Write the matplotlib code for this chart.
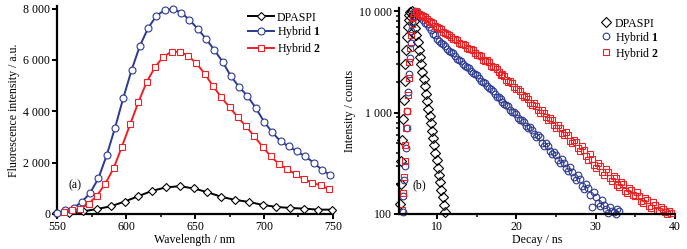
import matplotlib
matplotlib.use("Agg")
import matplotlib.pyplot as plt
from matplotlib.ticker import FixedLocator, MultipleLocator, LogLocator, NullFormatter

plt.rcParams['font.family'] = ['Liberation Serif', 'DejaVu Serif']
plt.rcParams['mathtext.fontset'] = 'custom'
plt.rcParams['mathtext.rm'] = 'Liberation Serif'
plt.rcParams['mathtext.bf'] = 'Liberation Serif:bold'

# ---------------- Panel (a): fluorescence spectra ----------------
wl_dpaspi = [549, 559, 569, 579, 589, 599, 609, 619, 629, 639, 649, 659, 669, 679,
             689, 699, 709, 719, 729, 739, 749]
fl_dpaspi = [20, 40, 100, 195, 300, 485, 695, 905, 1035, 1085, 995, 850, 670, 550,
             470, 355, 275, 235, 210, 170, 170]

wl_h1 = [550, 556, 562, 568, 574, 580, 586, 592, 598, 604, 610, 616, 622, 628, 634,
         640, 646, 652, 658, 664, 670, 676, 682, 688, 694, 700, 706, 712, 718, 724,
         730, 736, 742, 748]
fl_h1 = [40, 150, 240, 470, 820, 1390, 2290, 3350, 4515, 5600, 6545, 7240, 7720, 7945,
         7985, 7840, 7565, 7210, 6820, 6390, 5930, 5365, 4950, 4595, 4135, 3600, 3180,
         2830, 2630, 2435, 2240, 2000, 1715, 1520]

wl_h2 = [555, 561, 567, 573, 579, 585, 591, 597, 603, 609, 615, 621, 627, 633, 639,
         645, 651, 657, 663, 669, 675, 681, 687, 693, 699, 705, 711, 717, 723, 729,
         735, 741, 747]
fl_h2 = [80, 145, 210, 405, 720, 1180, 1780, 2620, 3495, 4360, 5145, 5720, 6125, 6320,
         6320, 6165, 5865, 5470, 4985, 4555, 4160, 3770, 3415, 3025, 2620, 2240, 1940,
         1740, 1545, 1350, 1220, 1115, 955]

yticks_a = [0, 2000, 4000, 6000, 8000]
yticklabels_a = ["0", "2 000", "4 000", "6 000", "8 000"]
xticks_a = [550, 600, 650, 700, 750]

# ---------------- Panel (b): fluorescence decay ----------------
t_dpaspi = [5.3, 5.4, 5.5, 5.6, 5.7, 5.8, 5.9, 6.0, 6.1, 6.2, 6.3, 6.4, 6.5, 6.6,
            6.8, 6.95, 7.1, 7.25, 7.4, 7.55, 7.7, 7.85, 8.0, 8.15, 8.3, 8.45, 8.6,
            8.75, 8.9, 9.05, 9.2, 9.35, 9.5, 9.65, 9.8, 9.95, 10.1, 10.25, 10.4,
            10.55, 10.7, 10.85, 11.0]
i_dpaspi = [125, 200, 330, 540, 860, 1350, 2050, 3000, 4200, 5600, 7000, 8300, 9300,
            9850, 10000, 9200, 8100, 6900, 5900, 5000, 4200, 3550, 3000, 2550, 2150,
            1820, 1540, 1300, 1100, 930, 790, 665, 560, 475, 400, 340, 285, 242, 205,
            172, 146, 123, 104]

t_h1 = [5.65, 5.75, 5.85, 5.95, 6.05, 6.15, 6.25, 6.35, 6.45, 6.55, 6.65, 6.75, 6.9,
        7.05, 7.2, 7.5, 8.0, 8.5, 9.0, 9.5, 10.0, 10.5, 11.0, 11.5, 12.0, 12.5, 13.0,
        13.5, 14.0, 14.5, 15.0, 15.5, 16.0, 16.5, 17.0, 17.5, 18.0, 18.5, 19.0, 19.5,
        20.0, 20.5, 21.0, 21.5, 22.0, 22.5, 23.0, 23.5, 24.0, 24.5, 25.0, 25.5, 26.0,
        26.5, 27.0, 27.5, 28.0, 28.5, 29.0, 29.5, 30.0, 30.5, 31.0, 31.5, 32.0, 32.5,
        33.0]
i_h1 = [105, 150, 215, 300, 450, 700, 1050, 1600, 2400, 3500, 4900, 6400, 7900, 9000,
        10000, 9700, 8800, 7700, 7000, 6050, 5400, 4850, 4550, 4100, 3850, 3420, 3250,
        2900, 2760, 2460, 2350, 2070, 1960, 1740, 1650, 1440, 1380, 1210, 1160, 1020,
        975, 840, 815, 700, 680, 575, 570, 470, 470, 390, 385, 320, 320, 265, 262,
        215, 222, 175, 180, 118, 148, 120, 124, 103, 108, 101, 106]
t_h1_more = [7.75, 8.25, 8.75, 9.25, 9.75, 10.25, 10.75, 11.25, 11.75, 12.25, 12.75,
             13.25, 13.75, 14.25, 14.75, 15.25, 15.75, 16.25, 16.75, 17.25, 17.75,
             18.25, 18.75, 19.25, 19.75, 20.25, 20.75, 21.25, 21.75, 22.25, 22.75,
             23.25, 23.75, 24.25, 24.75, 25.25, 25.75, 26.25, 26.75, 27.25, 27.75,
             28.25, 28.75, 29.25, 29.75, 30.25, 30.75, 31.25, 31.75, 32.25, 32.75]
i_h1_more = [9300, 8200, 7450, 6500, 5800, 5100, 4750, 4300, 4000, 3600, 3350, 3050,
             2850, 2580, 2420, 2200, 2030, 1840, 1700, 1520, 1430, 1270, 1200, 1060,
             1010, 880, 850, 740, 720, 610, 600, 500, 505, 420, 410, 340, 350, 285,
             290, 230, 245, 190, 200, 155, 165, 128, 138, 112, 118, 104, 112]

t_h2 = [5.6, 5.7, 5.8, 5.9, 6.0, 6.1, 6.2, 6.3, 6.4, 6.5, 6.6, 6.7, 6.85, 7.0, 7.15,
        7.3, 7.5, 8.0, 8.5, 9.0, 9.5, 10.0, 10.5, 11.0, 11.5, 12.0, 12.5, 13.0, 13.5,
        14.0, 14.5, 15.0, 15.5, 16.0, 16.5, 17.0, 17.5, 18.0, 18.5, 19.0, 19.5, 20.0,
        20.5, 21.0, 21.5, 22.0, 22.5, 23.0, 23.5, 24.0, 24.5, 25.0, 25.5, 26.0, 26.5,
        27.0, 27.5, 28.0, 28.5, 29.0, 29.5, 30.0, 30.5, 31.0, 31.5, 32.0, 32.5, 33.0,
        33.5, 34.0, 34.5, 35.0, 35.5, 36.0, 36.5, 37.0, 37.5, 38.0, 38.5, 39.0, 39.5]
i_h2 = [110, 160, 230, 330, 480, 700, 1030, 1500, 2200, 3150, 4400, 5800, 7600, 8900,
        9600, 10000, 9800, 9250, 8800, 8050, 7650, 6950, 6700, 6100, 5900, 5400, 5200,
        4800, 4650, 4250, 4150, 3750, 3620, 3250, 3150, 2800, 2700, 2380, 2300, 2000,
        1960, 1700, 1640, 1420, 1380, 1190, 1160, 1000, 985, 850, 840, 710, 700, 600,
        600, 500, 510, 415, 425, 340, 350, 285, 295, 245, 260, 210, 228, 185, 198,
        160, 172, 150, 152, 128, 136, 115, 124, 106, 112, 101, 103]
t_h2_more = [7.75, 8.25, 8.75, 9.25, 9.75, 10.25, 10.75, 11.25, 11.75, 12.25, 12.75,
             13.25, 13.75, 14.25, 14.75, 15.25, 15.75, 16.25, 16.75, 17.25, 17.75,
             18.25, 18.75, 19.25, 19.75, 20.25, 20.75, 21.25, 21.75, 22.25, 22.75,
             23.25, 23.75, 24.25, 24.75, 25.25, 25.75, 26.25, 26.75, 27.25, 27.75,
             28.25, 28.75, 29.25, 29.75, 30.25, 30.75, 31.25, 31.75, 32.25, 32.75,
             33.25, 33.75, 34.25, 34.75, 35.25, 35.75, 36.25, 36.75, 37.25, 37.75,
             38.25, 38.75, 39.25]
i_h2_more = [9450, 9000, 8350, 7950, 7200, 6900, 6300, 6050, 5550, 5400, 4900, 4800,
             4400, 4250, 3850, 3750, 3350, 3300, 2920, 2850, 2500, 2420, 2120, 2080,
             1800, 1720, 1500, 1470, 1260, 1250, 1060, 1060, 900, 890, 760, 750, 630,
             650, 530, 540, 450, 470, 370, 390, 305, 320, 260, 275, 225, 238, 195, 205,
             170, 182, 155, 165, 135, 145, 120, 130, 110, 118, 104, 108]

yticks_b = [100, 1000, 10000]
yticklabels_b = ["100", "1 000", "10 000"]
xticks_b = [10, 20, 30, 40]

BLUE = '#2B3990'
RED = '#ED2024'
FS = 8.6

fig = plt.figure(figsize=(6.87, 2.49), dpi=100)
ax1 = fig.add_axes([0.083, 0.1406, 0.4017, 0.835])
ax2 = fig.add_axes([0.5808, 0.1406, 0.4017, 0.827])

for ax in (ax1, ax2):
    for s in ('top', 'right'):
        ax.spines[s].set_visible(False)
    for s in ('left', 'bottom'):
        ax.spines[s].set_linewidth(1.6)
    ax.tick_params(which='major', direction='out', length=3.5, width=1.4,
                   labelsize=FS, pad=1.5)
    ax.tick_params(which='minor', direction='out', length=2, width=1.1)

# Panel a
ax1.plot(wl_dpaspi, fl_dpaspi, '-D', color='black', lw=1.4, ms=4.3,
         mfc='white', mec='black', mew=0.8, label='DPASPI', clip_on=False, zorder=3)
ax1.plot(wl_h1, fl_h1, '-o', color=BLUE, lw=1.4, ms=5,
         mfc='white', mec=BLUE, mew=0.8, label='Hybrid $\\mathbf{1}$', clip_on=False, zorder=3)
ax1.plot(wl_h2, fl_h2, '-s', color=RED, lw=1.4, ms=4.6,
         mfc='white', mec=RED, mew=0.8, label='Hybrid $\\mathbf{2}$', clip_on=False, zorder=3)
ax1.set_xlim(550, 750)
ax1.set_ylim(0, 8100)
ax1.xaxis.set_major_locator(FixedLocator(xticks_a))
ax1.xaxis.set_minor_locator(MultipleLocator(25))
ax1.set_yticks(yticks_a)
ax1.set_yticklabels(yticklabels_a)
ax1.set_xlabel('Wavelength / nm', fontsize=FS, labelpad=1)
ax1.set_ylabel('Fluorescence intensity / a.u.', fontsize=FS, labelpad=2)
ax1.text(0.04, 0.14, '(a)', transform=ax1.transAxes, fontsize=FS, va='center', ha='left')
ax1.legend(loc='upper left', bbox_to_anchor=(0.685, 0.985), frameon=False,
           fontsize=FS, handlelength=2.1, handletextpad=0.25,
           labelspacing=0.05, borderpad=0.2, borderaxespad=0)

# Panel b
ax2.plot(t_dpaspi, i_dpaspi, ls='none', marker='D', ms=4.6, mfc='none', mec='black',
         mew=0.8, label='DPASPI', clip_on=False)
ax2.plot(t_h1 + t_h1_more, i_h1 + i_h1_more, ls='none', marker='o', ms=4.8,
         mfc='none', mec=BLUE, mew=0.8, label='Hybrid $\\mathbf{1}$', clip_on=False)
ax2.plot(t_h2 + t_h2_more, i_h2 + i_h2_more, ls='none', marker='s', ms=4.5,
         mfc='none', mec=RED, mew=0.8, label='Hybrid $\\mathbf{2}$', clip_on=False)
ax2.set_yscale('log')
ax2.set_xlim(5.2, 40)
ax2.set_ylim(100, 10800)
ax2.xaxis.set_major_locator(FixedLocator(xticks_b))
ax2.xaxis.set_minor_locator(MultipleLocator(5))
ax2.yaxis.set_major_locator(FixedLocator(yticks_b))
ax2.set_yticklabels(yticklabels_b)
ax2.yaxis.set_minor_locator(LogLocator(base=10, subs=[2, 3, 4, 5, 6, 7, 8, 9]))
ax2.yaxis.set_minor_formatter(NullFormatter())
ax2.set_xlabel('Decay / ns', fontsize=FS, labelpad=1)
ax2.set_ylabel('Intensity / counts', fontsize=FS, labelpad=2)
ax2.text(0.05, 0.14, '(b)', transform=ax2.transAxes, fontsize=FS, va='center', ha='left')
ax2.legend(loc='upper left', bbox_to_anchor=(0.725, 0.965), frameon=False,
           fontsize=FS, handlelength=0.8, handletextpad=0.3,
           labelspacing=0.0, borderpad=0.2, borderaxespad=0, numpoints=1)

fig.savefig('out.png', dpi=100)
